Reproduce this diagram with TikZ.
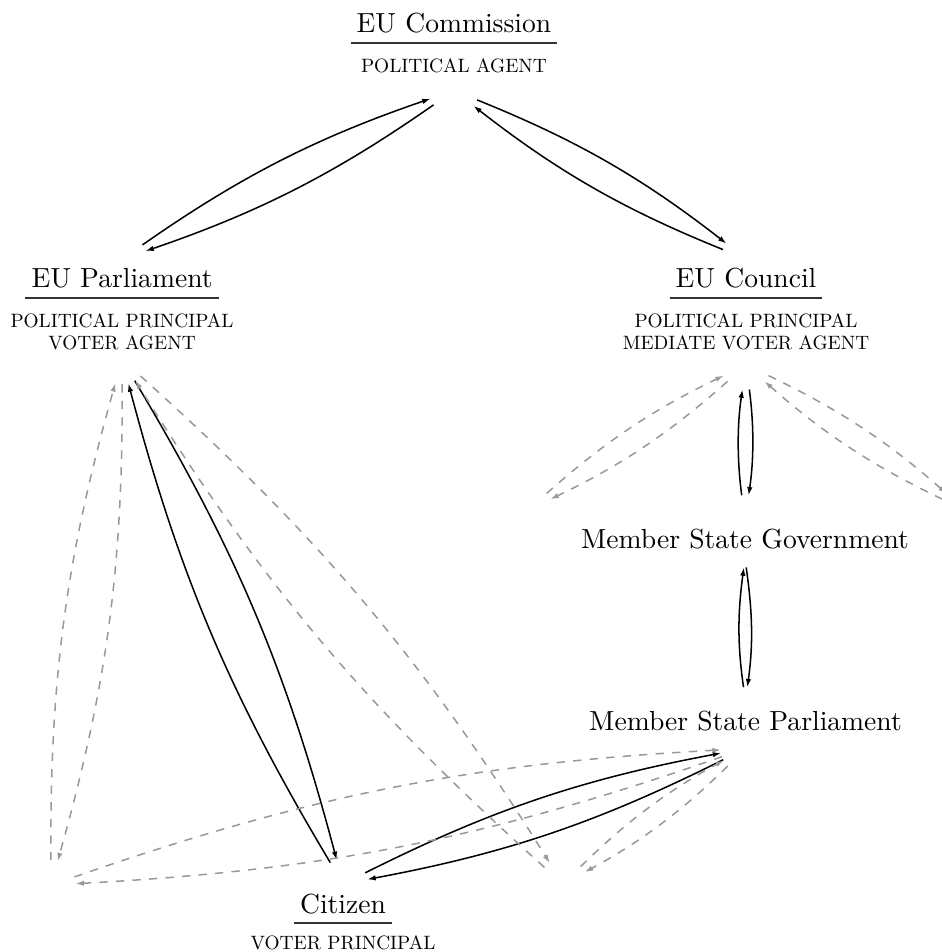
\documentclass[tikz,border=0pt]{standalone}
\usepackage{tikz}
\usetikzlibrary{arrows.meta,positioning}
\font\rolefont="[lmroman10-regular]" at 7pt

\begin{document}
\begin{tikzpicture}[
  actor/.style={anchor=base, inner xsep=2pt, inner ysep=3.3pt},
  role/.style={font={\fontsize{7}{8}\selectfont\rolefont}, align=center, inner sep=3.3pt},
  rule/.style={line width=0.8pt, black!80},
  flow/.style={-{Latex[length=3pt,width=2pt]}, line width=0.55pt, bend left=8, shorten <=9pt, shorten >=9pt},
  other/.style={flow, dashed, black!40}
]
\useasboundingbox (0,0) rectangle (11.995,-12.123);

% Political agents and principals
\node[actor] (comName) at (5.781,-0.420) {EU Commission};
\node[role, below=2pt of comName] (comRole) {POLITICAL AGENT};
\node[actor] (parlName) at (1.554,-3.667) {EU Parliament};
\node[role, below=2pt of parlName] (parlRole) {POLITICAL PRINCIPAL\\VOTER AGENT};
\node[actor] (counName) at (9.500,-3.667) {EU Council};
\node[role, below=2pt of counName] (counRole) {POLITICAL PRINCIPAL\\MEDIATE VOTER AGENT};
\node[actor] (citName) at (4.368,-11.627) {Citizen};
\node[role, below=1pt of citName] (citRole) {VOTER PRINCIPAL};

% Member state level
\node[actor] (gov) at (9.487,-6.991) {Member State Government};
\node[actor] (msp) at (9.493,-9.296) {Member State Parliament};

% Other member states and citizens (not shown)
\coordinate (otherGovL) at (6.724,-6.494);
\coordinate (otherGovR) at (12.288,-6.494);
\coordinate (otherCitL) at (0.649,-11.270);
\coordinate (otherCitR) at (7.169,-11.257);

\foreach \n in {comName,parlName,counName,citName}
  \draw[rule] (\n.south west) -- (\n.south east);

% Delegation and accountability
\draw[flow] (parlName.north) to ([yshift=-3pt]comRole.south);
\draw[flow] ([yshift=-3pt]comRole.south) to (parlName.north);
\draw[flow] ([yshift=-3pt]comRole.south) to (counName.north);
\draw[flow] (counName.north) to ([yshift=-3pt]comRole.south);
\draw[flow] (gov.north) to ([yshift=-2pt]counRole.south);
\draw[flow] ([yshift=-2pt]counRole.south) to (gov.north);
\draw[flow, shorten <=5pt, shorten >=3pt] (msp.north) to (gov.south);
\draw[flow, shorten <=3pt, shorten >=5pt] (gov.south) to (msp.north);
\draw[flow] (citName.north) to (parlRole.south);
\draw[flow] (parlRole.south) to (citName.north);
\draw[flow] (citName.north) to ([yshift=-3pt]msp.south);
\draw[flow] ([yshift=-3pt]msp.south) to (citName.north);

% Links to other member states
\draw[other] (otherCitL) to (parlRole.south);
\draw[other] (parlRole.south) to (otherCitL);
\draw[other] (parlRole.south) to (otherCitR);
\draw[other] (otherCitR) to (parlRole.south);
\draw[other] (otherCitL) to ([yshift=-3pt]msp.south);
\draw[other] ([yshift=-3pt]msp.south) to (otherCitL);
\draw[other] ([yshift=-3pt]msp.south) to (otherCitR);
\draw[other] (otherCitR) to ([yshift=-3pt]msp.south);
\draw[other] (otherGovL) to ([yshift=-2pt]counRole.south);
\draw[other] ([yshift=-2pt]counRole.south) to (otherGovL);
\draw[other] ([yshift=-2pt]counRole.south) to (otherGovR);
\draw[other] (otherGovR) to ([yshift=-2pt]counRole.south);
\end{tikzpicture}
\end{document}
